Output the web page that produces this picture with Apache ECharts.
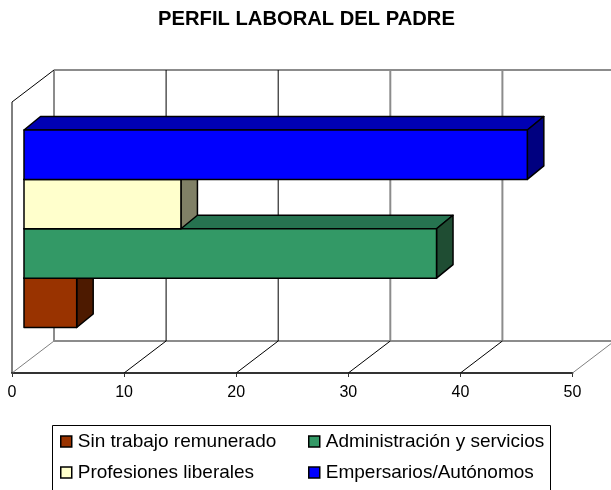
<!DOCTYPE html>
<html>
<head>
<meta charset="utf-8">
<title>Perfil laboral del padre</title>
<style>
html,body{margin:0;padding:0;background:#fff;}
#main{width:611px;height:490px;}
</style>
<script src="https://cdn.jsdelivr.net/npm/echarts@6/dist/echarts.min.js"></script>
</head>
<body>
<div id="main"></div>
<script>
// datos
var categories = ['Sin trabajo remunerado', 'Administración y servicios', 'Profesiones liberales', 'Empersarios/Autónomos'];
var values = [4.7, 36.8, 14, 44.9];
var frontColors = ['#993300', '#339966', '#FFFFCC', '#0000FF'];
var topColors = ['#732600', '#267350', '#BFBF99', '#0000B3'];
var sideColors = ['#4D1A00', '#1F4D33', '#808066', '#000080'];
var ticks = [0, 10, 20, 30, 40, 50];

// profundidad del efecto 3D
var wallDx = 42, wallDy = 32;
var barDx = 16.5, barDy = 13.5;
var fontName = '"Liberation Sans", Arial, sans-serif';

var myChart = echarts.init(document.getElementById('main'));

function line(x1, y1, x2, y2, soft) {
    return {
        type: 'line',
        shape: {x1: x1, y1: y1, x2: x2, y2: y2},
        style: {stroke: soft ? '#8c8c8c' : '#000', lineWidth: soft ? 2 : 1}
    };
}

// paredes: rejilla del fondo, suelo y pared izquierda
function renderWall(params, api) {
    var t = api.value(0);
    var p = api.coord([t, 0]);
    var top = api.coord([t, 1])[1];
    var x = p[0], y = p[1];
    var items = [
        line(x + wallDx, top - wallDy, x + wallDx, y - wallDy, t === 0 || t === 30 || t === 40),
        {
            type: 'line',
            shape: {x1: x, y1: y, x2: x + wallDx, y2: y - wallDy},
            style: {stroke: (t === 0 || t === 50) ? '#808080' : '#000', lineWidth: 1}
        }
    ];
    if (params.dataIndex === 0) {
        items.push(line(x, y, x, top));
        items.push(line(x, top, x + wallDx, top - wallDy));
        items.push(line(x + wallDx, top - wallDy, 611, top - wallDy, true));
        items.push(line(x + wallDx, y - wallDy, 611, y - wallDy, true));
    }
    return {type: 'group', children: items};
}

function poly(points, fill) {
    return {
        type: 'polygon',
        shape: {points: points},
        style: {fill: fill, stroke: '#000', lineWidth: 1.5, lineJoin: 'round'}
    };
}

function renderBar(params, api) {
    var idx = api.value(1);
    var end = api.coord([api.value(0), idx]);
    var x0 = api.coord([0, idx])[0];
    var h = api.size([0, 1])[1];
    var x1 = end[0], yt = end[1] - h / 2, yb = end[1] + h / 2;
    return {
        type: 'group',
        children: [
            poly([[x0, yt], [x0 + barDx, yt - barDy], [x1 + barDx, yt - barDy], [x1, yt]], topColors[idx]),
            poly([[x1, yt], [x1 + barDx, yt - barDy], [x1 + barDx, yb - barDy], [x1, yb]], sideColors[idx]),
            poly([[x0, yt], [x1, yt], [x1, yb], [x0, yb]], frontColors[idx])
        ]
    };
}

var series = [{
    type: 'custom',
    xAxisIndex: 0,
    yAxisIndex: 0,
    clip: false,
    silent: true,
    z: 1,
    renderItem: renderWall,
    data: ticks.map(function (t) { return [t]; })
}];
categories.forEach(function (name, i) {
    series.push({
        name: name,
        type: 'custom',
        xAxisIndex: 1,
        yAxisIndex: 1,
        clip: false,
        z: 2 + i,
        itemStyle: {color: frontColors[i]},
        renderItem: renderBar,
        encode: {x: 0, y: 1},
        data: [[values[i], i]]
    });
});

function legendItem(left, top, name) {
    return {
        left: left,
        top: top,
        itemWidth: 11,
        itemHeight: 11,
        icon: 'rect',
        selectedMode: false,
        itemStyle: {borderColor: '#000', borderWidth: 1.5},
        textStyle: {color: '#000', fontFamily: fontName, fontSize: 19, padding: [0, 0, 0, 1]},
        data: [name]
    };
}

var option = {
    backgroundColor: '#fff',
    animation: false,
    title: {
        text: 'PERFIL LABORAL DEL PADRE',
        left: 301.5,
        top: 4,
        textAlign: 'center',
        textStyle: {color: '#000', fontFamily: fontName, fontSize: 20.2, fontWeight: 'bold'}
    },
    legend: [
        legendItem(55, 427, categories[0]),
        legendItem(303, 427, categories[1]),
        legendItem(55, 458, categories[2]),
        legendItem(303, 458, categories[3])
    ],
    grid: [
        {left: 12, width: 560.5, top: 102, height: 271},
        {left: 24, width: 560.5, top: 130, height: 197.5}
    ],
    xAxis: [{
        type: 'value',
        gridIndex: 0,
        min: 0,
        max: 50,
        interval: 10,
        splitLine: {show: false},
        axisLine: {show: true, lineStyle: {color: '#333', width: 2}},
        axisTick: {show: true, length: 4, lineStyle: {color: '#333'}},
        axisLabel: {color: '#000', fontFamily: fontName, fontSize: 16, margin: 12, formatter: '{value}'}
    }, {
        type: 'value',
        gridIndex: 1,
        min: 0,
        max: 50,
        show: false
    }],
    yAxis: [{
        type: 'value',
        gridIndex: 0,
        min: 0,
        max: 1,
        show: false
    }, {
        type: 'category',
        gridIndex: 1,
        data: categories,
        show: false
    }],
    graphic: [{
        type: 'polyline',
        silent: true,
        shape: {points: [[52.5, 495], [52.5, 425.5], [550.5, 425.5], [550.5, 495]]},
        style: {stroke: '#000', fill: null, lineWidth: 1}
    }],
    series: series
};
myChart.setOption(option);
window.onresize = function () {
    myChart.resize();
};
</script>
</body>
</html>
